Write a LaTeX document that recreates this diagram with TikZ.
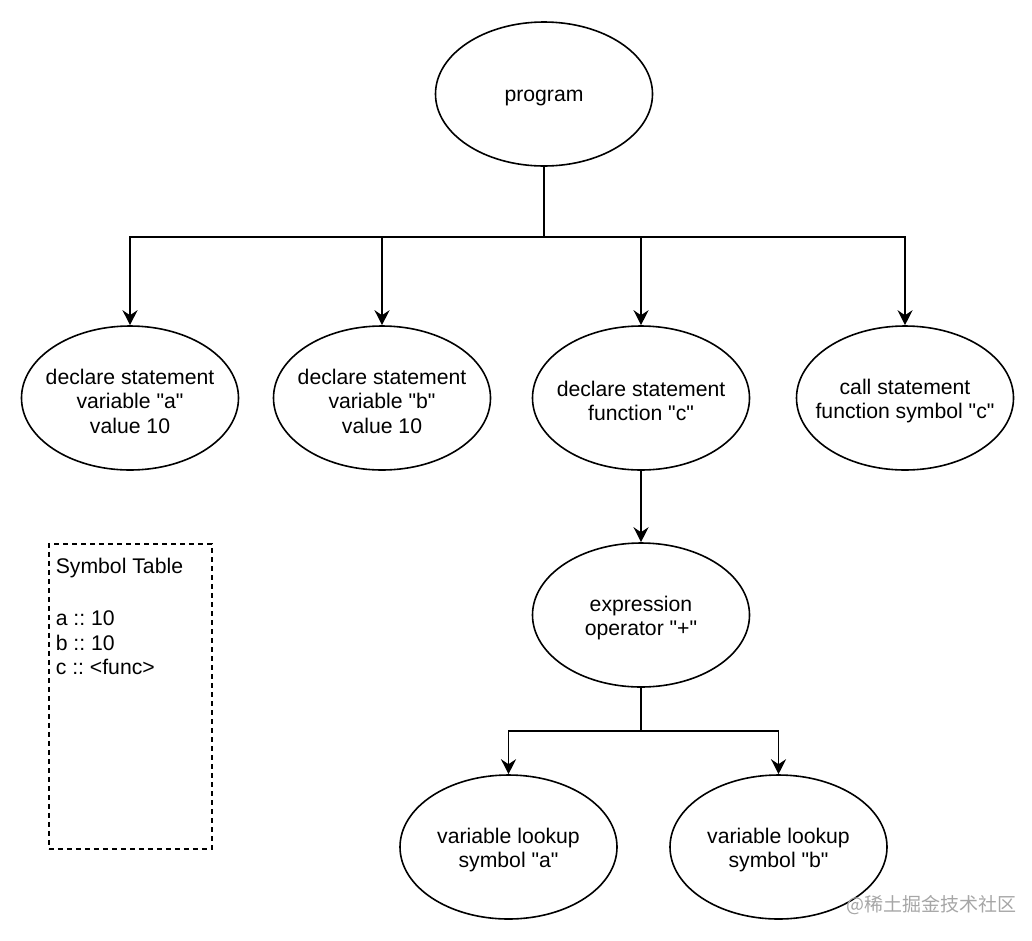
\documentclass[tikz,border=0pt]{standalone}
\usepackage{fontspec}
\setmainfont{Liberation Sans}[Ligatures=TeXOff]
\newfontfamily\cjkwm{Noto Sans CJK SC}
\usetikzlibrary{shapes.geometric,arrows.meta}
\frenchspacing
\begin{document}
\begin{tikzpicture}[x=1pt,y=-1pt,
  line width=1.6pt,
  ell/.style={ellipse, draw, minimum width=217pt, minimum height=144pt, inner sep=0pt},
  txt/.style={align=center, inner sep=0pt, font=\frenchspacing\fontsize{21.2}{24.5}\selectfont},
  arr/.style={-{Stealth[length=15pt,width=15pt,inset=5pt]}},
  stbox/.style={draw, dashed, dash pattern=on 5pt off 4pt, line width=1.5pt, minimum width=163pt, minimum height=305pt, anchor=north west, inner sep=0pt}
]
\useasboundingbox (0,0) rectangle (1032,940);

% ellipses
\node[ell] (prog) at (544,94) {};
\node[txt] (progt) at ([yshift=-4pt]prog.center) {program};

\node[ell] (da) at (130,398) {};
\node[txt] (dat) at ([yshift=-3pt]da.center) {declare statement\\variable "a"\\value 10};

\node[ell] (db) at (382,398) {};
\node[txt] (dbt) at ([yshift=-3pt]db.center) {declare statement\\variable "b"\\value 10};

\node[ell] (dc) at (641,398) {};
\node[txt] (dct) at ([yshift=-3pt]dc.center) {declare statement\\function "c"};

\node[ell] (cs) at (905,398) {};
\node[txt] (cst) at ([yshift=-3pt]cs.center) {call statement\\function symbol "c"};

\node[ell] (ex) at (641,615) {};
\node[txt] (ext) at ([yshift=-3pt]ex.center) {expression\\operator "+"};

\node[ell] (va) at (508.5,847) {};
\node[txt] (vat) at ([yshift=-3pt]va.center) {variable lookup\\symbol "a"};

\node[ell] (vb) at (778.5,847) {};
\node[txt] (vbt) at ([yshift=-3pt]vb.center) {variable lookup\\symbol "b"};

% connectors
\coordinate (j1) at (544,237);
\draw (prog.south) -- (j1);
\draw[arr] (j1) -| (da.north);
\draw[arr] (j1) -| (db.north);
\draw[arr] (j1) -| (dc.north);
\draw[arr] (j1) -| (cs.north);

\draw[arr] (dc.south) -- (ex.north);

\coordinate (j2) at (641,731);
\draw (ex.south) -- (j2);
\draw[arr] (j2) -| (va.north);
\draw[arr] (j2) -| (vb.north);

% symbol table
\node[stbox] (st) at (48,543) {};
\node[anchor=north west, align=left, inner sep=0pt, font=\frenchspacing\fontsize{21.2}{24.5}\selectfont] (stt) at (55,557.5)
  {Symbol Table\\[27.5pt]a :: 10\\b :: 10\\c :: <func>};

% watermark
\node[anchor=west, inner sep=0pt, text=black!35, font=\cjkwm\fontsize{19}{19}\selectfont] (wm) at (846,905) {@稀土掘金技术社区};
\end{tikzpicture}
\end{document}
